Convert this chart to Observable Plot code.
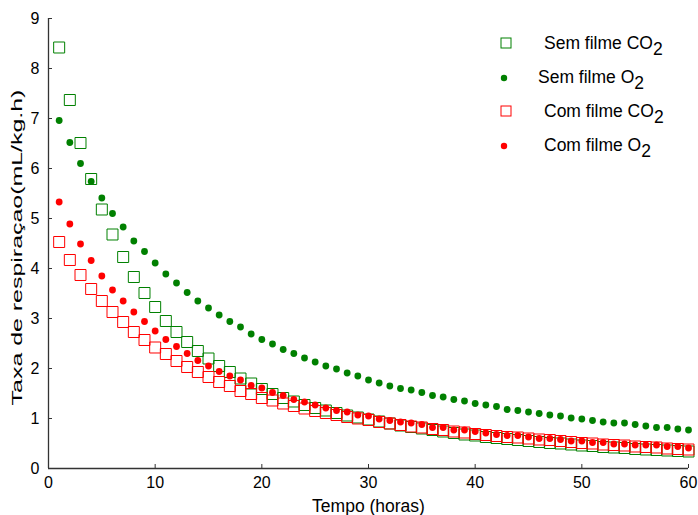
<!DOCTYPE html>
<html>
<head>
<meta charset="utf-8">
<script src="https://cdn.jsdelivr.net/npm/d3@7"></script>
<script src="https://cdn.jsdelivr.net/npm/@observablehq/plot@0.6"></script>
<style>
  html, body { margin: 0; padding: 0; background: #fff; }
  #chart svg { display: block; }
</style>
</head>
<body>
<div id="chart"></div>
<script>
const hours = [1,2,3,4,5,6,7,8,9,10,11,12,13,14,15,16,17,18,19,20,21,22,23,24,25,26,27,28,29,30,
  31,32,33,34,35,36,37,38,39,40,41,42,43,44,45,46,47,48,49,50,51,52,53,54,55,56,57,58,59,60];

const semFilmeCO2 = [8.42,7.37,6.51,5.79,5.18,4.68,4.23,3.83,3.51,3.23,2.95,2.73,2.53,2.35,2.20,2.05,1.93,1.80,1.70,1.59,
  1.49,1.41,1.34,1.27,1.21,1.16,1.11,1.06,1.02,0.98,0.94,0.90,0.86,0.83,0.80,0.77,0.74,0.71,0.68,0.66,
  0.63,0.61,0.59,0.57,0.55,0.53,0.51,0.50,0.48,0.46,0.45,0.43,0.42,0.41,0.39,0.38,0.37,0.36,0.35,0.34];

const semFilmeO2 = [6.96,6.52,6.10,5.74,5.41,5.10,4.83,4.55,4.34,4.11,3.89,3.71,3.52,3.35,3.21,3.07,2.94,2.83,2.69,2.58,
  2.49,2.38,2.30,2.21,2.13,2.05,1.99,1.91,1.85,1.77,1.71,1.65,1.60,1.57,1.52,1.46,1.43,1.38,1.35,1.30,
  1.27,1.24,1.18,1.16,1.13,1.10,1.07,1.05,1.01,0.99,0.96,0.93,0.91,0.91,0.88,0.85,0.82,0.82,0.79,0.77];

const comFilmeCO2 = [4.53,4.17,3.87,3.59,3.35,3.13,2.93,2.73,2.57,2.42,2.29,2.15,2.03,1.93,1.83,1.73,1.65,1.55,1.49,1.41,
  1.36,1.30,1.25,1.20,1.15,1.11,1.07,1.03,1.00,0.97,0.93,0.90,0.87,0.84,0.82,0.79,0.77,0.74,0.72,0.69,
  0.67,0.65,0.63,0.62,0.60,0.58,0.57,0.55,0.53,0.51,0.50,0.48,0.47,0.46,0.44,0.43,0.42,0.40,0.39,0.38];

const comFilmeO2 = [5.33,4.89,4.49,4.16,3.85,3.57,3.35,3.13,2.94,2.75,2.58,2.44,2.30,2.16,2.05,1.94,1.85,1.77,1.66,1.61,
  1.52,1.46,1.38,1.33,1.27,1.21,1.16,1.13,1.07,1.05,0.99,0.96,0.93,0.91,0.88,0.82,0.82,0.77,0.77,0.74,
  0.71,0.68,0.66,0.66,0.63,0.60,0.60,0.58,0.55,0.55,0.52,0.52,0.49,0.49,0.47,0.47,0.47,0.44,0.44,0.41];

const xTicks = [0,10,20,30,40,50,60];
const yTicks = [0,1,2,3,4,5,6,7,8,9];
const xLabel = "Tempo (horas)";
const yLabel = "Taxa de respiraçao(mL/kg.h)";

const legendItems = [
  {main: "Sem filme CO", sub: "2", color: "#008000", symbol: "square"},
  {main: "Sem filme O",  sub: "2", color: "#008000", symbol: "dot"},
  {main: "Com filme CO", sub: "2", color: "#ff0000", symbol: "square"},
  {main: "Com filme O",  sub: "2", color: "#ff0000", symbol: "dot"}
];

const GREEN = "#008000", RED = "#ff0000";
const FONT = "'Liberation Sans', Arial, sans-serif";
const pts = (vals) => hours.map((h, i) => ({h, v: vals[i]}));

const chart = Plot.plot({
  width: 698,
  height: 515,
  marginLeft: 48,
  marginRight: 10,
  marginTop: 18,
  marginBottom: 47,
  style: {fontFamily: FONT, fontSize: "16px", color: "#000", background: "#fff", overflow: "visible"},
  x: {domain: [0, 60]},
  y: {domain: [0, 9]},
  marks: [
    Plot.axisX({ticks: xTicks, tickSize: -4, tickPadding: 12, label: null, stroke: "#333", fontSize: 16}),
    Plot.axisY({ticks: yTicks, tickSize: -4, tickPadding: 13, label: null, stroke: "#333", fontSize: 16}),
    Plot.ruleY([0], {stroke: "#333", strokeWidth: 1.3}),
    Plot.ruleX([0], {stroke: "#333", strokeWidth: 1.3}),
    Plot.dot(pts(semFilmeCO2), {x: "h", y: "v", symbol: "square", r: 6.2, stroke: GREEN, fill: "none", strokeWidth: 1}),
    Plot.dot(pts(semFilmeO2), {x: "h", y: "v", symbol: "circle", r: 3.4, fill: GREEN, stroke: "none"}),
    Plot.dot(pts(comFilmeCO2), {x: "h", y: "v", symbol: "square", r: 6.2, stroke: RED, fill: "none", strokeWidth: 1}),
    Plot.dot(pts(comFilmeO2), {x: "h", y: "v", symbol: "circle", r: 3.4, fill: RED, stroke: "none"}),
    Plot.text([xLabel], {frameAnchor: "bottom", dy: 43, fontSize: 17.5, fill: "#000"}),
    Plot.text([yLabel], {frameAnchor: "left", textAnchor: "middle", rotate: -90, dx: -31, dy: 4, fontSize: 15, fill: "#000"})
  ]
});

document.getElementById("chart").appendChild(chart);

// stretch the y title along its own direction, as in the reference
d3.select(chart).selectAll("text").filter(function() { return this.textContent === yLabel; })
  .each(function() {
    const len = this.getComputedTextLength();
    const s = 316 / len;
    const tr = this.getAttribute("transform") || "";
    this.setAttribute("transform", tr + ` scale(${s},1)`);
  });

// legend
const svg = d3.select(chart);
const lg = svg.append("g").attr("font-family", FONT).attr("font-size", 17.5).attr("text-anchor", "start");
const legendX = [544, 538, 544, 544];
legendItems.forEach((d, i) => {
  const cy = 43 + i * 34;
  if (d.symbol === "square") {
    lg.append("rect").attr("x", 501).attr("y", cy - 5).attr("width", 10).attr("height", 10)
      .attr("fill", "none").attr("stroke", d.color).attr("stroke-width", 1);
  } else {
    lg.append("circle").attr("cx", 504).attr("cy", cy + 1).attr("r", 3.2).attr("fill", d.color);
  }
  const t = lg.append("text").attr("x", legendX[i]).attr("y", cy + 6).attr("fill", "#000");
  t.append("tspan").text(d.main);
  t.append("tspan").attr("dy", 6).text(d.sub);
});
</script>
</body>
</html>
